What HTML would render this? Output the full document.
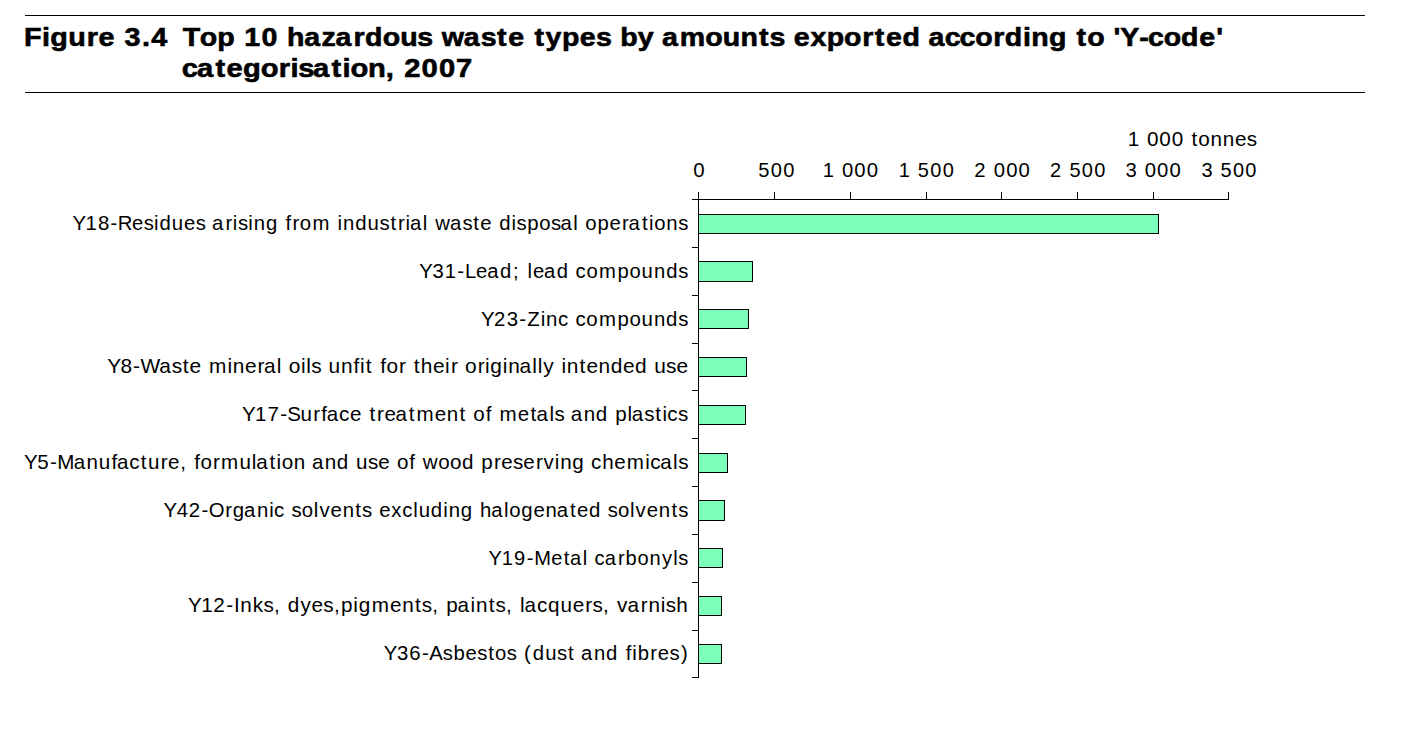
<!DOCTYPE html>
<html><head><meta charset="utf-8"><title>Figure 3.4</title>
<style>
html,body{margin:0;padding:0;background:#fff;}
body{width:1426px;height:740px;overflow:hidden;position:relative;}
svg{position:absolute;left:0;top:0;display:block;}
text{font-family:"Liberation Sans", sans-serif;fill:#000;font-kerning:none;font-variant-ligatures:none;}
.t{font-weight:bold;font-size:26.0px;stroke:#000;stroke-width:0.6px;}
.l{font-size:20.0px;}
</style></head><body>
<svg width="1426" height="740" viewBox="0 0 1426 740" shape-rendering="crispEdges">

<rect x="25" y="15" width="1340" height="1" fill="#000"/>
<rect x="25" y="92" width="1340" height="1" fill="#000"/>
<g shape-rendering="auto">
<text class="t" transform="translate(0 46.00) scale(1.1064 1)" x="21.79 38.02 45.51 61.71 78.46 89.13 104.14 112.64 128.38 136.75" y="0">Figure 3.4</text>
<text class="t" transform="translate(0 46.00) scale(1.0989 1)" x="166.20 181.74 197.77 213.71 222.30 238.06 253.16 261.15 276.76 292.52 305.26 321.80 332.25 348.28 364.12 379.80 393.65 401.93 422.05 437.45 452.28 462.48 477.52 486.40 496.32 511.34 527.61 542.30 556.16 564.35 580.35 595.07 602.52 618.52 641.75 657.60 673.77 690.75 700.26 714.11 722.34 737.48 752.31 768.10 784.62 796.00 806.19 821.30 837.47 844.92 859.77 873.21 887.41 903.93 914.38 930.85 938.48 954.55 970.71 979.59 989.30 1005.03 1013.29 1019.39 1036.68 1044.80 1058.99 1074.78 1091.30 1106.70" y="0">Top 10 hazardous waste types by amounts exported according to &#x27;Y-code&#x27;</text>
<text class="t" transform="translate(0 77.00) scale(1.1207 1)" x="162.18 175.78 192.22 202.13 216.91 232.57 248.79 259.28 266.19 279.29 295.73 305.68 312.76 328.30 344.17 352.55 360.75 376.22 391.66 406.96" y="0">categorisation, 2007</text>
<text class="l" transform="translate(0 230.00) scale(1.0170 1)" x="71.23 84.13 96.37 108.76 115.89 129.78 141.27 151.54 156.78 168.95 180.95 192.44 202.27 208.55 221.63 228.95 233.91 244.19 249.57 261.51 273.25 280.77 287.63 294.79 307.19 324.76 331.90 337.29 349.23 361.40 373.15 383.90 391.43 398.75 403.17 415.73 420.60 427.87 442.47 454.70 465.44 472.35 483.75 490.83 503.00 507.96 518.41 530.18 541.68 551.08 563.63 568.50 575.48 587.49 599.33 611.68 618.13 631.16 638.17 643.31 655.22 666.89" y="0">Y18-Residues arising from industrial waste disposal operations</text>
<text class="l" transform="translate(0 278.00) scale(1.0129 1)" x="413.84 426.92 438.98 451.53 459.14 470.02 481.03 493.58 506.35 513.66 520.84 526.10 537.11 549.67 561.43 568.21 579.01 591.49 609.74 621.57 633.46 645.69 657.69 669.58" y="0">Y31-Lead; lead compounds</text>
<text class="l" transform="translate(0 326.00) scale(1.0218 1)" x="470.84 483.55 495.92 508.25 516.05 529.10 534.46 546.00 556.46 563.14 573.85 586.20 604.33 616.06 627.85 639.98 651.89 663.68" y="0">Y23-Zinc compounds</text>
<text class="l" transform="translate(0 373.00) scale(1.0448 1)" x="102.55 115.23 127.34 134.38 152.41 164.33 174.84 181.49 192.72 200.00 217.68 222.83 234.42 246.48 252.69 265.00 269.80 276.44 288.04 293.18 297.95 307.65 314.45 326.29 338.41 344.59 350.19 356.65 363.90 369.83 381.89 388.69 396.02 402.81 414.43 426.02 431.64 438.44 445.08 457.15 464.31 469.32 481.24 486.39 497.20 509.52 514.67 519.96 530.45 537.34 542.49 554.70 561.35 572.94 584.56 596.30 607.75 619.31 626.11 637.55 647.44" y="0">Y8-Waste mineral oils unfit for their originally intended use</text>
<text class="l" transform="translate(0 421.00) scale(1.0297 1)" x="234.97 247.72 259.78 272.09 278.87 291.80 304.27 311.90 317.25 329.26 339.94 351.26 358.76 366.18 373.30 384.12 397.04 404.46 422.20 433.97 446.33 452.86 459.69 471.79 477.65 485.18 502.91 515.10 521.12 533.57 538.45 548.23 554.35 566.86 578.66 590.31 597.48 609.30 613.64 625.73 636.38 643.31 648.09 658.54" y="0">Y17-Surface treatment of metals and plastics</text>
<text class="l" transform="translate(0 469.00) scale(1.0309 1)" x="23.41 36.15 48.46 55.59 71.50 83.96 95.78 108.10 113.43 125.39 136.63 143.49 155.93 163.02 174.77 181.15 188.52 194.56 206.74 214.45 232.22 244.16 248.47 261.35 268.26 273.27 285.00 296.47 302.56 315.02 326.78 338.41 345.36 356.94 366.95 378.25 385.04 397.11 402.96 410.01 425.11 436.60 448.19 459.82 466.93 479.23 486.32 497.64 507.65 519.84 527.23 538.19 543.44 555.20 566.83 573.37 584.16 595.92 608.08 625.91 630.67 640.53 652.95 657.81" y="0">Y5-Manufacture, formulation and use of wood preserving chemicals</text>
<text class="l" transform="translate(0 517.00) scale(1.0186 1)" x="160.53 173.48 185.31 197.91 205.01 221.19 228.41 239.66 252.25 264.22 269.06 279.51 286.27 296.33 308.11 313.59 324.53 336.39 348.83 355.46 365.27 372.27 384.21 394.86 405.73 411.00 422.97 435.10 440.45 452.34 464.04 471.19 482.30 494.81 499.92 511.64 523.66 535.52 546.60 559.59 566.46 578.18 589.88 596.64 606.71 618.49 623.97 634.91 646.77 659.20 665.83" y="0">Y42-Organic solvents excluding halogenated solvents</text>
<text class="l" transform="translate(0 565.00) scale(1.0036 1)" x="486.86 499.89 512.20 524.77 532.23 549.29 561.70 567.93 580.59 585.49 592.34 602.50 615.71 623.31 635.21 647.26 659.60 670.77 675.83" y="0">Y19-Metal carbonyls</text>
<text class="l" transform="translate(0 612.00) scale(1.0356 1)" x="181.49 194.22 206.05 218.55 225.91 231.91 243.98 254.33 264.55 270.94 277.85 290.06 300.90 312.25 322.47 329.39 341.21 346.33 358.86 376.57 388.33 400.67 407.22 417.44 423.84 430.98 441.89 454.33 459.60 471.94 478.50 488.72 495.11 502.12 506.44 518.43 529.12 541.13 552.96 565.17 572.05 582.27 588.66 595.85 605.90 618.84 626.12 638.01 642.87 653.05" y="0">Y12-Inks, dyes,pigments, paints, lacquers, varnish</text>
<text class="l" transform="translate(0 660.00) scale(1.0143 1)" x="378.35 391.40 403.55 415.97 423.27 436.60 447.08 458.95 470.48 481.25 488.12 499.64 509.49 516.71 525.27 537.48 549.26 560.03 566.61 572.91 585.59 597.57 609.32 616.88 623.22 628.72 641.21 648.46 659.98 671.34" y="0">Y36-Asbestos (dust and fibres)</text>
<text class="l" transform="translate(0 177.00) scale(1.0251 1)" x="676.29" y="0">0</text>
<text class="l" transform="translate(0 177.00) scale(1.0060 1)" x="753.80 766.17 778.47" y="0">500</text>
<text class="l" transform="translate(0 177.00) scale(1.0145 1)" x="810.89 822.65 829.92 842.12 854.32" y="0">1 000</text>
<text class="l" transform="translate(0 177.00) scale(0.9998 1)" x="898.82 910.67 918.05 930.51 942.88" y="0">1 500</text>
<text class="l" transform="translate(0 177.00) scale(1.0162 1)" x="958.78 970.69 977.94 990.12 1002.30" y="0">2 000</text>
<text class="l" transform="translate(0 177.00) scale(1.0017 1)" x="1048.23 1060.23 1067.59 1080.02 1092.37" y="0">2 500</text>
<text class="l" transform="translate(0 177.00) scale(1.0151 1)" x="1108.81 1120.45 1127.71 1139.90 1152.09" y="0">3 000</text>
<text class="l" transform="translate(0 177.00) scale(1.0007 1)" x="1200.57 1212.29 1219.66 1232.11 1244.47" y="0">3 500</text>
<text class="l" transform="translate(0 146.00) scale(1.0356 1)" x="1088.91 1100.56 1107.57 1119.52 1131.47 1143.01 1150.46 1157.16 1168.89 1180.80 1192.52 1203.85" y="0">1 000 tonnes</text>
</g>
<g fill="#000">
<rect x="692" y="199" width="537" height="1"/>
<rect x="698" y="192" width="1" height="486"/>
<rect x="698" y="192" width="1" height="7"/>
<rect x="774" y="192" width="1" height="7"/>
<rect x="850" y="192" width="1" height="7"/>
<rect x="926" y="192" width="1" height="7"/>
<rect x="1001" y="192" width="1" height="7"/>
<rect x="1077" y="192" width="1" height="7"/>
<rect x="1153" y="192" width="1" height="7"/>
<rect x="1228" y="192" width="1" height="7"/>
<rect x="692" y="247" width="6" height="1"/>
<rect x="692" y="295" width="6" height="1"/>
<rect x="692" y="343" width="6" height="1"/>
<rect x="692" y="390" width="6" height="1"/>
<rect x="692" y="438" width="6" height="1"/>
<rect x="692" y="486" width="6" height="1"/>
<rect x="692" y="534" width="6" height="1"/>
<rect x="692" y="582" width="6" height="1"/>
<rect x="692" y="630" width="6" height="1"/>
<rect x="692" y="677" width="6" height="1"/>
</g>
<rect x="698" y="214" width="461" height="20" fill="#000"/>
<rect x="699" y="215" width="459" height="18" fill="#7DFFBC"/>
<rect x="698" y="261" width="55" height="21" fill="#000"/>
<rect x="699" y="262" width="53" height="19" fill="#7DFFBC"/>
<rect x="698" y="309" width="51" height="20" fill="#000"/>
<rect x="699" y="310" width="49" height="18" fill="#7DFFBC"/>
<rect x="698" y="357" width="49" height="20" fill="#000"/>
<rect x="699" y="358" width="47" height="18" fill="#7DFFBC"/>
<rect x="698" y="405" width="48" height="20" fill="#000"/>
<rect x="699" y="406" width="46" height="18" fill="#7DFFBC"/>
<rect x="698" y="453" width="30" height="20" fill="#000"/>
<rect x="699" y="454" width="28" height="18" fill="#7DFFBC"/>
<rect x="698" y="500" width="27" height="21" fill="#000"/>
<rect x="699" y="501" width="25" height="19" fill="#7DFFBC"/>
<rect x="698" y="548" width="25" height="20" fill="#000"/>
<rect x="699" y="549" width="23" height="18" fill="#7DFFBC"/>
<rect x="698" y="596" width="24" height="20" fill="#000"/>
<rect x="699" y="597" width="22" height="18" fill="#7DFFBC"/>
<rect x="698" y="644" width="24" height="20" fill="#000"/>
<rect x="699" y="645" width="22" height="18" fill="#7DFFBC"/>
</svg></body></html>
